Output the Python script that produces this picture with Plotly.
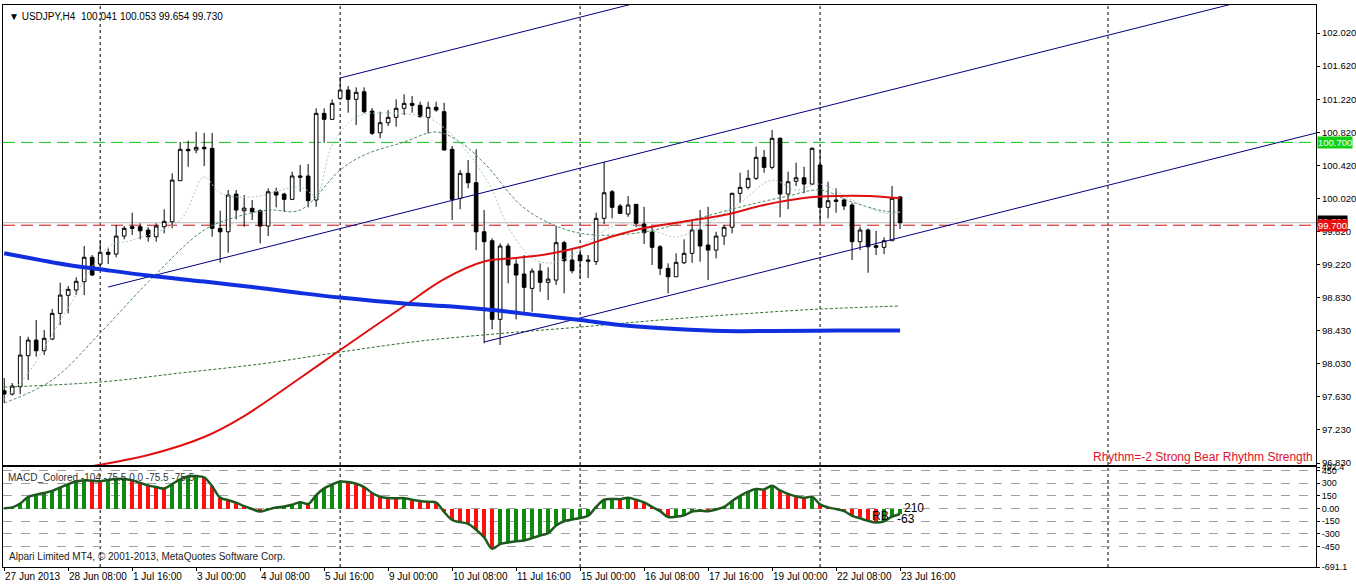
import plotly.graph_objects as go

# --- USDJPY H4, 27 Jun 2013 00:00 .. 23 Jul 2013 16:00 (bar index 0..112) ---
OPEN = [97.702, 97.662, 97.751, 98.125, 98.314, 98.185, 98.326, 98.636, 98.854, 98.918,
        99.018, 99.313, 99.231, 99.373, 99.352, 99.569, 99.682, 99.682, 99.642, 99.561,
        99.682, 99.742, 100.237, 100.616, 100.608, 100.640, 100.628, 99.662, 99.621, 100.076,
        99.875, 99.904, 99.875, 99.690, 100.104, 100.076, 100.012, 100.278, 100.294, 100.004,
        101.050, 100.978, 101.232, 101.332, 101.219, 101.311, 101.078, 100.816, 100.937, 101.002,
        101.111, 101.171, 101.147, 101.002, 101.123, 101.070, 100.616, 100.024, 100.326, 100.213,
        99.621, 99.513, 98.564, 99.449, 99.231, 99.111, 98.938, 99.147, 99.011, 99.038,
        99.489, 99.280, 99.340, 99.264, 99.260, 99.783, 100.104, 99.932, 99.835, 99.952,
        99.714, 99.618, 99.440, 99.180, 99.078, 99.247, 99.361, 99.642, 99.461, 99.400,
        99.569, 99.675, 100.085, 100.157, 100.266, 100.519, 100.398, 100.749, 100.076, 100.230,
        100.273, 100.197, 100.427, 99.916, 100.004, 100.004, 99.944, 99.501, 99.642, 99.452,
        99.433, 99.513, 100.041]
HIGH = [97.856, 97.795, 98.363, 98.354, 98.556, 98.435, 98.688, 99.006, 98.966, 99.071,
        99.449, 99.340, 99.513, 99.421, 99.702, 99.690, 99.851, 99.723, 99.675, 99.723,
        99.892, 100.326, 100.704, 100.720, 100.828, 100.813, 100.813, 99.875, 100.125, 100.125,
        100.064, 100.004, 99.892, 100.145, 100.153, 100.092, 100.346, 100.427, 100.439, 101.111,
        101.111, 101.219, 101.485, 101.380, 101.364, 101.364, 101.114, 101.070, 101.090, 101.219,
        101.280, 101.259, 101.190, 101.190, 101.190, 101.178, 100.656, 100.366, 100.487, 100.616,
        99.883, 99.542, 99.481, 99.481, 99.288, 99.340, 99.180, 99.240, 99.192, 99.690,
        99.513, 99.400, 99.400, 99.340, 99.851, 100.466, 100.125, 99.956, 100.052, 99.956,
        99.923, 99.682, 99.461, 99.240, 99.361, 99.530, 99.763, 99.883, 99.923, 99.621,
        99.702, 100.092, 100.334, 100.366, 100.647, 100.608, 100.849, 100.761, 100.346, 100.454,
        100.406, 100.640, 100.616, 100.225, 100.145, 100.025, 99.968, 99.682, 99.662, 99.633,
        99.554, 100.173, 100.053]
LOW = [97.554, 97.644, 97.662, 97.831, 98.113, 98.133, 98.314, 98.495, 98.636, 98.857,
       98.857, 99.087, 99.199, 99.231, 99.312, 99.530, 99.582, 99.530, 99.501, 99.501,
       99.602, 99.662, 100.237, 100.406, 100.568, 100.414, 99.561, 99.247, 99.368, 99.771,
       99.682, 99.763, 99.481, 99.569, 99.916, 99.863, 100.004, 100.104, 99.916, 99.923,
       100.696, 100.970, 101.211, 101.058, 100.909, 101.050, 100.789, 100.749, 100.897, 100.889,
       101.030, 101.058, 101.002, 100.809, 101.070, 100.600, 99.763, 99.892, 100.145, 99.400,
       98.274, 98.443, 98.254, 98.999, 98.564, 98.616, 98.656, 98.897, 98.797, 98.978,
       98.878, 99.119, 99.059, 99.063, 99.220, 99.714, 99.783, 99.835, 99.802, 99.675,
       99.473, 99.220, 99.099, 98.878, 99.078, 99.231, 99.247, 99.260, 99.038, 99.300,
       99.461, 99.602, 99.971, 100.133, 100.245, 100.334, 100.374, 99.795, 99.892, 100.173,
       100.085, 100.185, 99.730, 99.783, 99.851, 99.883, 99.280, 99.400, 99.127, 99.340,
       99.352, 99.513, 99.654]
CLOSE = [97.662, 97.759, 98.133, 98.314, 98.185, 98.335, 98.636, 98.857, 98.926, 99.023,
         99.313, 99.099, 99.373, 99.349, 99.569, 99.662, 99.662, 99.633, 99.561, 99.690,
         99.747, 100.245, 100.616, 100.599, 100.640, 100.623, 99.662, 99.621, 100.064, 99.883,
         99.907, 99.863, 99.690, 100.104, 100.064, 100.012, 100.294, 100.294, 99.996, 101.050,
         100.978, 101.171, 101.332, 101.219, 101.304, 101.070, 100.809, 100.937, 101.002, 101.111,
         101.171, 101.147, 101.009, 101.123, 101.090, 100.608, 100.012, 100.326, 100.213, 99.621,
         99.501, 98.564, 99.449, 99.220, 99.099, 98.950, 99.147, 99.011, 99.050, 99.489,
         99.271, 99.151, 99.271, 99.280, 99.783, 100.092, 99.916, 99.843, 99.944, 99.723,
         99.609, 99.433, 99.180, 99.078, 99.252, 99.361, 99.642, 99.449, 99.400, 99.569,
         99.675, 100.085, 100.157, 100.266, 100.519, 100.398, 100.749, 100.076, 100.225, 100.273,
         100.197, 100.628, 99.916, 99.996, 99.988, 99.932, 99.501, 99.642, 99.440, 99.433,
         99.513, 100.025, 99.730]
BARS = list(range(len(CLOSE)))

# moving averages (bar index, price)
MA_BLUE_BARS = [0, 8, 12, 18, 25, 31, 37, 42, 50, 56, 61, 67, 72, 77, 84, 90, 96, 104, 112]
MA_BLUE = [99.361, 99.220, 99.168, 99.093, 99.020, 98.954, 98.882, 98.827, 98.755, 98.718,
           98.676, 98.610, 98.556, 98.495, 98.447, 98.423, 98.423, 98.429, 98.429]
MA_RED_BARS = [11, 18, 25, 30, 37, 42, 50, 55, 60, 64, 68, 72, 76, 80, 85, 90, 95, 100, 104, 108, 112]
MA_RED = [96.793, 96.926, 97.144, 97.397, 97.856, 98.194, 98.725, 99.050, 99.262, 99.304,
          99.352, 99.437, 99.563, 99.666, 99.744, 99.823, 99.944, 100.028, 100.052, 100.052, 100.025]
MA_GREEN_BARS = [0, 12, 22, 32, 42, 52, 62, 72, 82, 92, 102, 112]
MA_GREEN = [97.747, 97.807, 97.916, 98.025, 98.169, 98.302, 98.393, 98.471, 98.556, 98.628, 98.688, 98.725]
MA_FAST_BARS = [0, 3, 8, 13, 16, 22, 25, 27, 31, 37, 39, 41, 44, 48, 53, 55, 58, 61, 63, 66, 68,
                71, 74, 77, 82, 84, 88, 92, 96, 99, 102, 106, 110, 112]
MA_FAST = [97.600, 97.916, 98.700, 99.437, 99.521, 99.763, 100.282, 100.088, 100.040, 100.161,
           100.064, 100.668, 101.006, 101.054, 100.994, 100.873, 100.571, 100.125, 99.678, 99.304,
           99.244, 99.340, 99.569, 99.714, 99.606, 99.558, 99.726, 99.968, 100.245, 100.125,
           100.197, 100.004, 99.847, 99.859]
MA_MID_BARS = [0, 6, 12, 18, 25, 29, 33, 37, 42, 45, 50, 54, 57, 60, 65, 70, 74, 80, 86, 92,
               98, 102, 106, 110, 112]
MA_MID = [97.554, 97.832, 98.399, 99.014, 99.642, 99.799, 99.883, 99.883, 100.366, 100.547,
          100.704, 100.825, 100.704, 100.451, 99.908, 99.654, 99.582, 99.618, 99.763, 99.920,
          100.052, 100.125, 99.980, 99.871, 99.859]

# MACD_Colored histogram, one value per bar
MACD = [5, 15, 60, 140, 165, 185, 210, 250, 290, 320, 337, 330, 325, 340, 350, 352, 335, 305, 275, 255,
        238, 290, 345, 383, 385, 370, 265, 130, 100, 70, 30, -5, -35, -10, 12, 25, 45, 75, 55, 160,
        240, 285, 320, 315, 295, 255, 185, 140, 125, 122, 124, 105, 90, 80, 72, -40, -135, -160, -180, -250,
        -340, -475, -420, -400, -385, -377, -350, -318, -290, -200, -150, -130, -110, -85, 20, 105, 115, 112, 128, 105,
        75, 20, -30, -100, -95, -80, -35, -25, -30, -10, 20, 90, 150, 200, 232, 228, 270, 215, 175, 145,
        128, 140, 50, 15, -5, -30, -85, -115, -145, -165, -150, -95, -63]

# drawn channel: two points per line (bar, price)
CHANNEL = [((42, 101.477), (79, 102.382)),
           ((13, 98.954), (154, 102.382)),
           ((60, 98.290), (164, 100.813))]
LEVEL_GREEN = 100.700
LEVEL_RED = 99.700
BID = 99.730

PRICE_TICKS = [96.83, 97.23, 97.63, 98.03, 98.43, 98.83, 99.22, 99.62, 100.02, 100.42, 100.82, 101.22, 101.62, 102.02]
MACD_TICKS = [492.4, 450, 300, 150, 0, -150, -300, -450, -691.1]
MACD_TICKTEXT = ["492.4", "450", "300", "150", "0.00", "-150", "-300", "-450", "-691.1"]
TIME_TICKS = list(range(0, 113, 8))
TIME_LABELS = ["27 Jun 2013", "28 Jun 08:00", "1 Jul 16:00", "3 Jul 00:00", "4 Jul 08:00",
               "5 Jul 16:00", "9 Jul 00:00", "10 Jul 08:00", "11 Jul 16:00", "15 Jul 00:00",
               "16 Jul 08:00", "17 Jul 16:00", "19 Jul 00:00", "22 Jul 08:00", "23 Jul 16:00"]
SEPARATORS = [12, 42, 72, 102, 138]

FONT = "Liberation Sans"
X_RANGE = [-0.15, 164.0]

fig = go.Figure()

fig.add_trace(go.Candlestick(
    x=BARS, open=OPEN, high=HIGH, low=LOW, close=CLOSE,
    increasing=dict(line=dict(color="black", width=1), fillcolor="white"),
    decreasing=dict(line=dict(color="black", width=1), fillcolor="black"),
    whiskerwidth=0, xaxis="x", yaxis="y", hoverinfo="skip",
))

# thin MAs
fig.add_trace(go.Scatter(x=MA_MID_BARS, y=MA_MID, mode="lines", line_shape="spline",
                         line=dict(color="#4f8a5f", width=1, dash="3px,2px"), xaxis="x", yaxis="y"))
fig.add_trace(go.Scatter(x=MA_FAST_BARS, y=MA_FAST, mode="lines", line_shape="spline",
                         line=dict(color="#a8c8c8", width=1, dash="2px,2px"), xaxis="x", yaxis="y"))
fig.add_trace(go.Scatter(x=MA_GREEN_BARS, y=MA_GREEN, mode="lines", line_shape="spline",
                         line=dict(color="#2e6b2e", width=1, dash="3px,2px"), xaxis="x", yaxis="y"))

# channel lines, extended as rays to the right
for (b0, p0), (b1, p1) in CHANNEL:
    slope = (p1 - p0) / (b1 - b0)
    fig.add_trace(go.Scatter(x=[b0, 170], y=[p0, p0 + slope * (170 - b0)], mode="lines",
                             line=dict(color="#000080", width=1), xaxis="x", yaxis="y"))

fig.add_trace(go.Scatter(x=MA_RED_BARS, y=MA_RED, mode="lines", line_shape="spline",
                         line=dict(color="#e01010", width=2), xaxis="x", yaxis="y"))
fig.add_trace(go.Scatter(x=MA_BLUE_BARS, y=MA_BLUE, mode="lines", line_shape="spline",
                         line=dict(color="#1030e0", width=4), xaxis="x", yaxis="y"))

# MACD histogram, green when rising, red when falling
bar_colors = ["#108a10" if i == 0 or MACD[i] >= MACD[i - 1] else "#ff1010" for i in range(len(MACD))]
fig.add_trace(go.Bar(x=BARS, y=MACD, marker=dict(color=bar_colors, line_width=0), width=0.55,
                     xaxis="x2", yaxis="y2"))
fig.add_trace(go.Scatter(x=BARS, y=MACD, mode="lines", line_shape="spline",
                         line=dict(color="#1e5a1e", width=2.5), xaxis="x2", yaxis="y2"))

shapes = []
for s in SEPARATORS:
    shapes.append(dict(type="line", xref="x", yref="paper", x0=s, x1=s, y0=0, y1=1, layer="below",
                       line=dict(color="black", width=1, dash="3px,3px")))
shapes += [
    dict(type="line", xref="x domain", yref="y", x0=0, x1=1, y0=BID, y1=BID, layer="below",
         line=dict(color="#b8b8b8", width=1)),
    dict(type="line", xref="x domain", yref="y", x0=0, x1=1, y0=LEVEL_GREEN, y1=LEVEL_GREEN, layer="below",
         line=dict(color="#10c810", width=1, dash="12px,6px")),
    dict(type="line", xref="x domain", yref="y", x0=0, x1=1, y0=LEVEL_RED, y1=LEVEL_RED, layer="below",
         line=dict(color="#d01010", width=1, dash="12px,6px")),
]

LABEL_FONT = dict(size=9.5, color="white", family=FONT)
annotations = [
    dict(text="▼ USDJPY,H4  %.3f %.3f %.3f %.3f" % (OPEN[-1], HIGH[-1], LOW[-1], CLOSE[-1]),
         xref="paper", yref="paper", x=0.003, y=0.993, xanchor="left", yanchor="top",
         showarrow=False, font=dict(size=10, color="black", family=FONT)),
    dict(text="Rhythm=-2 Strong Bear Rhythm Strength", xref="paper", yref="paper", x=0.999, y=0.196,
         xanchor="right", yanchor="middle", showarrow=False, font=dict(size=12, color="#e0102a", family=FONT)),
    dict(text="MACD_Colored -104 -75.5 0.0 -75.5 -75.5", xref="paper", yref="paper", x=0.002, y=0.160,
         xanchor="left", yanchor="middle", showarrow=False, font=dict(size=10, color="#333", family=FONT)),
    dict(text="Alpari Limited MT4, © 2001-2013, MetaQuotes Software Corp.", xref="paper", yref="paper",
         x=0.003, y=0.018, xanchor="left", yanchor="middle", showarrow=False,
         font=dict(size=10, color="#222", family=FONT)),
    dict(text="RB", xref="x2", yref="y2", x=108.2, y=-91, xanchor="left", yanchor="middle",
         showarrow=False, font=dict(size=12, color="black", family=FONT)),
    dict(text="210", xref="x2", yref="y2", x=112.3, y=12, xanchor="left", yanchor="middle",
         showarrow=False, font=dict(size=12, color="black", family=FONT)),
    dict(text="-63", xref="x2", yref="y2", x=111.4, y=-125, xanchor="left", yanchor="middle",
         showarrow=False, font=dict(size=12, color="black", family=FONT)),
    # price labels on the right axis
    dict(text="%.3f" % BID, xref="paper", yref="y", x=1.0, y=BID, xanchor="left", yanchor="middle",
         xshift=1, yshift=1, showarrow=False, bgcolor="black", borderpad=0, font=LABEL_FONT),
    dict(text="%.3f" % LEVEL_RED, xref="paper", yref="y", x=1.0, y=LEVEL_RED, xanchor="left", yanchor="middle",
         xshift=1, showarrow=False, bgcolor="#e81010", borderpad=0, font=LABEL_FONT),
    dict(text="%.3f" % LEVEL_GREEN, xref="paper", yref="y", x=1.0, y=LEVEL_GREEN, xanchor="left",
         yanchor="middle", xshift=1, showarrow=False, bgcolor="#10d010", borderpad=0, font=LABEL_FONT),
]
for t, lab in zip(TIME_TICKS, TIME_LABELS):
    annotations.append(dict(text=lab, xref="x2", yref="paper", x=t, y=0, xanchor="left", yanchor="top",
                            yshift=-2, xshift=-1, showarrow=False,
                            font=dict(size=10, color="black", family=FONT)))

fig.update_layout(
    width=1356, height=587,
    margin=dict(l=3, r=40, t=5, b=20),
    paper_bgcolor="white", plot_bgcolor="white",
    showlegend=False, boxgap=0.35, bargap=0,
    font=dict(family=FONT, size=10, color="black"),
    shapes=shapes, annotations=annotations,
    xaxis=dict(domain=[0, 1], anchor="y", range=X_RANGE, showgrid=False, zeroline=False,
               showticklabels=False, showline=True, mirror=True, linecolor="black", linewidth=1,
               rangeslider=dict(visible=False)),
    yaxis=dict(domain=[0.1815, 1], anchor="x", side="right", range=[96.806, 102.358],
               tickvals=PRICE_TICKS, ticktext=["%.3f" % v for v in PRICE_TICKS],
               ticks="outside", ticklen=3, tickcolor="black", showgrid=False, zeroline=False,
               showline=True, mirror=True, linecolor="black", linewidth=1, automargin=False,
               tickfont=dict(size=9.5, family=FONT)),
    xaxis2=dict(domain=[0, 1], anchor="y2", matches="x", range=X_RANGE, showgrid=False, zeroline=False,
                tickvals=TIME_TICKS, showticklabels=False, ticks="outside", ticklen=3, tickcolor="black",
                showline=True, mirror=True, linecolor="black", linewidth=1),
    yaxis2=dict(domain=[0, 0.1779], anchor="x2", side="right", range=[-691.1, 492.4],
                tickvals=MACD_TICKS, ticktext=MACD_TICKTEXT, ticks="outside", ticklen=3, tickcolor="black",
                showgrid=True, gridcolor="#a0a0a0", griddash="dash", gridwidth=1, zeroline=False,
                showline=True, mirror=True, linecolor="black", linewidth=1, automargin=False,
                tickfont=dict(size=9, family=FONT)),
)

# page body has a default 8px margin; drop it so the figure sits at the window's corner
fig.write_html("out.html", config={"displayModeBar": False},
               post_script="document.body.style.margin='0';")
